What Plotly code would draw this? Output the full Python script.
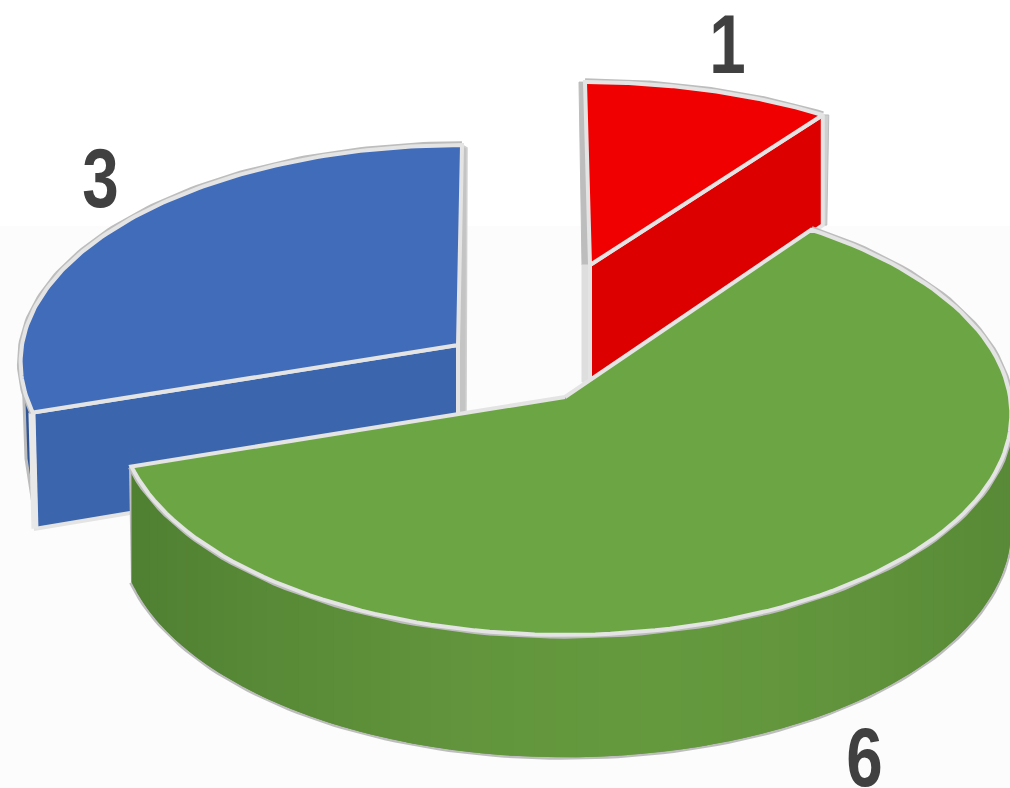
import math
import plotly.graph_objects as go

# ---- data ----
categories = ["red", "green", "blue"]
values = [1, 6, 3]

# ---- styling / projection parameters (pixels of the 1010x788 canvas) ----
WIDTH, HEIGHT = 1010, 788
STYLE = {
    "red":   dict(cx=590, cy=265, a=428, b=197, k=0.077, shear=5,  depth=117, lean=0,
                  top="#f00000", wall="#dc0000", label=(727, 44)),
    "green": dict(cx=565, cy=397, a=445, b=219.6, k=0.077, shear=0, depth=113, lean=0,
                  top="#6ca644", wall="#5f913c", label=(864, 757)),
    "blue":  dict(cx=458, cy=345, a=436, b=214, k=0.07, shear=-4, depth=113.5, lean=3,
                  top="#416cb9", wall="#3b66ae", label=(100, 178)),
}
RIM_DARK, RIM_LIGHT = "#bdbdbd", "#e4e4e4"
GREEN_DARK, GREEN_MID = (80, 128, 50), (101, 153, 62)
LABEL_SQUEEZE = 0.78

# ---- angles from the values ----
total = sum(values)
angles, acc = {}, 0.0
for c, v in zip(categories, values):
    angles[c] = (acc / total * 2 * math.pi, (acc + v) / total * 2 * math.pi)
    acc += v


def proj(s, phi, r=1.0):
    u, v = math.sin(phi) * r, -math.cos(phi) * r
    w = 1 - s["k"] * v
    return s["cx"] + s["a"] * u / w + s["shear"] * v, s["cy"] + s["b"] * v / w, s["depth"] / w


def arc(s, p0, p1, n=120):
    return [p0 + (p1 - p0) * i / n for i in range(n + 1)]


fig = go.Figure()


def poly(xs, ys, fill=None, line=None, width=0, closed=True):
    xs, ys = list(xs), list(ys)
    if closed:
        xs, ys = xs + [xs[0]], ys + [ys[0]]
    fig.add_trace(go.Scatter(
        x=xs, y=ys, mode="lines", hoverinfo="skip", showlegend=False,
        fill="toself" if fill else "none", fillcolor=fill,
        line=dict(color=line or "rgba(0,0,0,0)", width=width, shape="linear"),
    ))


def rim(s, p0, p1, bottom=False):
    pts = [proj(s, p) for p in arc(s, p0, p1)]
    return [p[0] for p in pts], [p[1] + (p[2] if bottom else 0) for p in pts]


def top_face(name):
    s = STYLE[name]
    p0, p1 = angles[name]
    xs, ys = rim(s, p0, p1)
    xs, ys = [s["cx"]] + xs, [s["cy"]] + ys
    rx, ry = rim(s, p0, p1)
    poly(rx, ry, line=RIM_DARK, width=7.5, closed=False)
    poly(xs, ys, fill=s["top"], line=RIM_LIGHT, width=4)


def wall(name, phi, color):
    s = STYLE[name]
    x, y, d = proj(s, phi)
    d0 = s["depth"]
    poly([s["cx"], x, x + s["lean"], s["cx"]], [s["cy"], y, y + d, s["cy"] + d0],
         fill=color, line=RIM_LIGHT, width=4)


# ---- blue slice ----
s = STYLE["blue"]
p0, p1 = angles["blue"]
xa, ya = rim(s, p0, p0 + math.radians(18))
lx, ly, ld = proj(s, p0 + math.radians(18))
tipx, tipy, tipd = proj(s, p0)
poly(xa + [lx + 4, lx + 11, tipx + s["lean"]],
     ya + [ly + ld * 1.0, ly + ld * 1.4, tipy + tipd],
     fill="#2f5597", line=RIM_DARK, width=3)
# sliver at the closing edge of the slice
tx, ty, td = proj(s, p1)
poly([tx, tx + 5, s["cx"] + 8, s["cx"]],
     [ty, ty + 3, s["cy"] + s["depth"] * 0.6, s["cy"] + s["depth"] * 0.6],
     fill="#c4c4c4", line="#d0d0d0", width=1.5)
wall("blue", p0, s["wall"])
poly([tipx - 1, tipx + s["lean"] - 1], [tipy, tipy + tipd], line="#e8e8e8", width=7, closed=False)
top_face("blue")

# ---- red slice ----
s = STYLE["red"]
p0, p1 = angles["red"]
tx, ty, td = proj(s, p0)
poly([tx - 6, tx, s["cx"], s["cx"] - 8],
     [ty, ty, s["cy"], s["cy"]], fill="#bdbdbd", line="#bdbdbd", width=1)
poly([s["cx"] - 8, s["cx"], s["cx"], s["cx"] - 8],
     [s["cy"], s["cy"], s["cy"] + s["depth"], s["cy"] + s["depth"]],
     fill="#dedede", line="#dedede", width=1)
ex, ey, ed = proj(s, p1)
poly([ex, ex + 6, ex + 4, ex], [ey, ey, ey + ed, ey + ed], fill="#cfcfcf", line="#bdbdbd", width=1)
wall("red", p1, s["wall"])
top_face("red")

# ---- green slice ----
s = STYLE["green"]
p0, p1 = angles["green"]
x_outer, y_outer = rim(s, math.radians(90), p1, bottom=True)
poly(x_outer, y_outer, line=RIM_DARK, width=5, closed=False)
sx, sy, sd = proj(s, p1)
poly([sx, sx + 2], [sy, sy + sd], line=RIM_DARK, width=5, closed=False)

steps = 64
seq = arc(s, p1, math.radians(90), steps)
for i in range(steps):
    a0, a1 = seq[i], seq[min(i + 2, steps)]
    xm = proj(s, (a0 + seq[i + 1]) / 2)[0]
    t = 1 - min(1.0, abs(xm - 640) / 500) ** 1.6
    col = "rgb(%d,%d,%d)" % tuple(round(g0 + (g1 - g0) * t) for g0, g1 in zip(GREEN_DARK, GREEN_MID))
    xa, ya = rim(s, a0, a1)
    xb, yb = rim(s, a0, a1, bottom=True)
    poly(xa + xb[::-1], ya + yb[::-1], fill=col)
top_face("green")

# ---- labels ----
annotations = [
    dict(x=STYLE[c]["label"][0], y=STYLE[c]["label"][1], text=f"<b>{v}</b>", showarrow=False,
         xref="x", yref="y", xanchor="center", yanchor="middle",
         font=dict(family="Liberation Sans", size=84, color="#404040"))
    for c, v in zip(categories, values)
]

fig.update_layout(
    width=WIDTH, height=HEIGHT, autosize=False,
    margin=dict(l=0, r=0, t=0, b=0, pad=0),
    paper_bgcolor="#fcfcfc", plot_bgcolor="rgba(0,0,0,0)",
    showlegend=False, annotations=annotations, hovermode=False,
    shapes=[dict(type="rect", xref="x", yref="y", x0=0, x1=WIDTH, y0=0, y1=226,
                 fillcolor="#ffffff", line_width=0, layer="below")],
    xaxis=dict(range=[0, WIDTH], visible=False, fixedrange=True),
    yaxis=dict(range=[HEIGHT, 0], visible=False, fixedrange=True),
)
squeeze_js = """
document.body.style.margin='0';document.body.style.overflow='hidden';
document.querySelectorAll('text.annotation-text').forEach(function(t){
  var b=t.getBBox(), c=b.x+b.width/2, old=t.getAttribute('transform')||'';
  t.setAttribute('transform', old+' translate('+c+',0) scale(%s,1) translate('+(-c)+',0)');
});
""" % LABEL_SQUEEZE
fig.write_html("out.html", config={"displayModeBar": False}, post_script=squeeze_js)
